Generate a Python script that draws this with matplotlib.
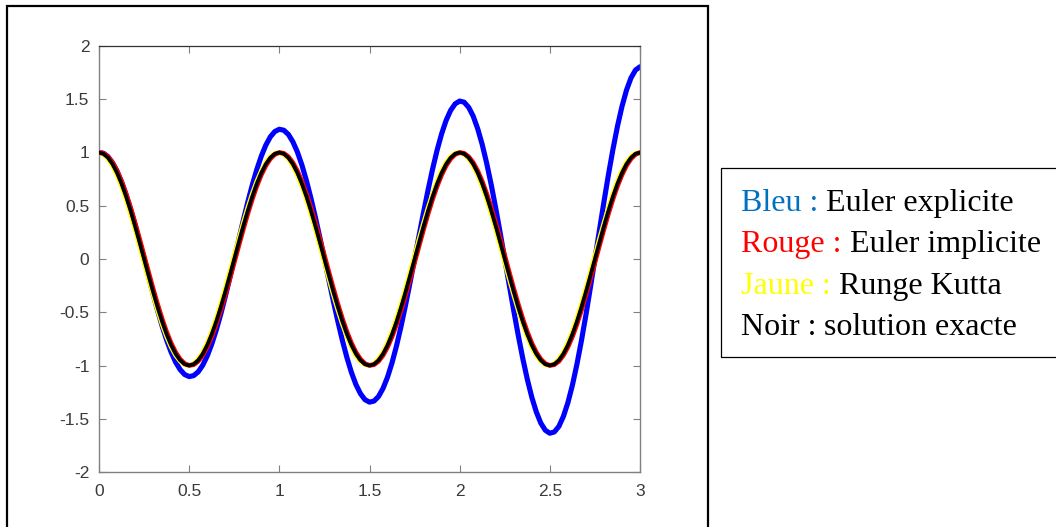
import numpy as np
import matplotlib
matplotlib.use("Agg")
import matplotlib.pyplot as plt
from matplotlib.patches import Rectangle

# ---- data ----
t = np.linspace(0, 3, 121)

exacte = [1.0, 0.988, 0.951, 0.891, 0.809, 0.707, 0.588, 0.454, 0.309, 0.156, 0.0,
          -0.156, -0.309, -0.454, -0.588, -0.707, -0.809, -0.891, -0.951, -0.988, -1.0,
          -0.988, -0.951, -0.891, -0.809, -0.707, -0.588, -0.454, -0.309, -0.156, 0.0,
          0.156, 0.309, 0.454, 0.588, 0.707, 0.809, 0.891, 0.951, 0.988, 1.0,
          0.988, 0.951, 0.891, 0.809, 0.707, 0.588, 0.454, 0.309, 0.156, 0.0,
          -0.156, -0.309, -0.454, -0.588, -0.707, -0.809, -0.891, -0.951, -0.988, -1.0,
          -0.988, -0.951, -0.891, -0.809, -0.707, -0.588, -0.454, -0.309, -0.156, 0.0,
          0.156, 0.309, 0.454, 0.588, 0.707, 0.809, 0.891, 0.951, 0.988, 1.0,
          0.988, 0.951, 0.891, 0.809, 0.707, 0.588, 0.454, 0.309, 0.156, 0.0,
          -0.156, -0.309, -0.454, -0.588, -0.707, -0.809, -0.891, -0.951, -0.988, -1.0,
          -0.988, -0.951, -0.891, -0.809, -0.707, -0.588, -0.454, -0.309, -0.156, 0.0,
          0.156, 0.309, 0.454, 0.588, 0.707, 0.809, 0.891, 0.951, 0.988, 1.0]

euler_explicite = [1.000, 0.993, 0.961, 0.904, 0.825, 0.725, 0.605, 0.470, 0.321, 0.163, 0.0,
                   -0.165, -0.328, -0.484, -0.630, -0.761, -0.875, -0.969, -1.039, -1.085, -1.104,
                   -1.095, -1.060, -0.998, -0.911, -0.800, -0.668, -0.519, -0.355, -0.180, 0.0,
                   0.182, 0.362, 0.534, 0.695, 0.840, 0.966, 1.069, 1.147, 1.197, 1.218,
                   1.209, 1.170, 1.101, 1.005, 0.883, 0.737, 0.572, 0.391, 0.199, 0.0,
                   -0.201, -0.399, -0.589, -0.767, -0.927, -1.066, -1.180, -1.265, -1.321, -1.344,
                   -1.334, -1.291, -1.215, -1.109, -0.974, -0.814, -0.631, -0.432, -0.220, 0.0,
                   0.222, 0.440, 0.650, 0.846, 1.023, 1.176, 1.302, 1.396, 1.457, 1.483,
                   1.472, 1.424, 1.341, 1.223, 1.075, 0.898, 0.697, 0.477, 0.242, 0.0,
                   -0.245, -0.486, -0.718, -0.934, -1.129, -1.298, -1.436, -1.541, -1.608, -1.636,
                   -1.624, -1.572, -1.479, -1.350, -1.186, -0.990, -0.769, -0.526, -0.267, 0.0,
                   0.270, 0.536, 0.792, 1.030, 1.246, 1.432, 1.585, 1.700, 1.774, 1.805]

euler_implicite = [0.9995, 0.9921, 0.9603, 0.9048, 0.8271, 0.7290, 0.6129, 0.4818, 0.3387, 0.1874, 0.0314,
                   -0.1253, -0.2790, -0.4258, -0.5621, -0.6846, -0.7902, -0.8763, -0.9409, -0.9823, -0.9995,
                   -0.9921, -0.9603, -0.9048, -0.8271, -0.7290, -0.6129, -0.4818, -0.3387, -0.1874, -0.0314,
                   0.1253, 0.2790, 0.4258, 0.5621, 0.6846, 0.7902, 0.8763, 0.9409, 0.9823, 0.9995,
                   0.9921, 0.9603, 0.9048, 0.8271, 0.7290, 0.6129, 0.4818, 0.3387, 0.1874, 0.0314,
                   -0.1253, -0.2790, -0.4258, -0.5621, -0.6846, -0.7902, -0.8763, -0.9409, -0.9823, -0.9995,
                   -0.9921, -0.9603, -0.9048, -0.8271, -0.7290, -0.6129, -0.4818, -0.3387, -0.1874, -0.0314,
                   0.1253, 0.2790, 0.4258, 0.5621, 0.6846, 0.7902, 0.8763, 0.9409, 0.9823, 0.9995,
                   0.9921, 0.9603, 0.9048, 0.8271, 0.7290, 0.6129, 0.4818, 0.3387, 0.1874, 0.0314,
                   -0.1253, -0.2790, -0.4258, -0.5621, -0.6846, -0.7902, -0.8763, -0.9409, -0.9823, -0.9995,
                   -0.9921, -0.9603, -0.9048, -0.8271, -0.7290, -0.6129, -0.4818, -0.3387, -0.1874, -0.0314,
                   0.1253, 0.2790, 0.4258, 0.5621, 0.6846, 0.7902, 0.8763, 0.9409, 0.9823, 0.9995]

runge_kutta = [0.9995, 0.9823, 0.9409, 0.8763, 0.7902, 0.6846, 0.5621, 0.4258, 0.2790, 0.1253, -0.0314,
               -0.1874, -0.3387, -0.4818, -0.6129, -0.7290, -0.8271, -0.9048, -0.9603, -0.9921, -0.9995,
               -0.9823, -0.9409, -0.8763, -0.7902, -0.6846, -0.5621, -0.4258, -0.2790, -0.1253, 0.0314,
               0.1874, 0.3387, 0.4818, 0.6129, 0.7290, 0.8271, 0.9048, 0.9603, 0.9921, 0.9995,
               0.9823, 0.9409, 0.8763, 0.7902, 0.6846, 0.5621, 0.4258, 0.2790, 0.1253, -0.0314,
               -0.1874, -0.3387, -0.4818, -0.6129, -0.7290, -0.8271, -0.9048, -0.9603, -0.9921, -0.9995,
               -0.9823, -0.9409, -0.8763, -0.7902, -0.6846, -0.5621, -0.4258, -0.2790, -0.1253, 0.0314,
               0.1874, 0.3387, 0.4818, 0.6129, 0.7290, 0.8271, 0.9048, 0.9603, 0.9921, 0.9995,
               0.9823, 0.9409, 0.8763, 0.7902, 0.6846, 0.5621, 0.4258, 0.2790, 0.1253, -0.0314,
               -0.1874, -0.3387, -0.4818, -0.6129, -0.7290, -0.8271, -0.9048, -0.9603, -0.9921, -0.9995,
               -0.9823, -0.9409, -0.8763, -0.7902, -0.6846, -0.5621, -0.4258, -0.2790, -0.1253, 0.0314,
               0.1874, 0.3387, 0.4818, 0.6129, 0.7290, 0.8271, 0.9048, 0.9603, 0.9921, 0.9995]

xticks = [0, 0.5, 1, 1.5, 2, 2.5, 3]
xticklabels = ["0", "0.5", "1", "1.5", "2", "2.5", "3"]
yticks = [-2, -1.5, -1, -0.5, 0, 0.5, 1, 1.5, 2]
yticklabels = ["-2", "-1.5", "-1", "-0.5", "0", "0.5", "1", "1.5", "2"]

legend_lines = [("Bleu : ", "#0070C0", "Euler explicite"),
                ("Rouge : ", "#FF0000", "Euler implicite"),
                ("Jaune : ", "#FFFF00", "Runge Kutta"),
                ("Noir : ", "#000000", "solution exacte")]

# ---- figure ----
W, H = 1056, 527
fig = plt.figure(figsize=(W / 100, H / 100), dpi=100)
fig.patch.set_facecolor("white")

def fx(px):
    return px / W

def fy(py):
    return 1 - py / H

# outer frame (bottom is off the canvas)
fig.patches.append(Rectangle((fx(7), fy(540)), fx(708) - fx(7), fy(6) - fy(540),
                             transform=fig.transFigure, fill=False,
                             edgecolor="black", linewidth=1.6, zorder=0))

ax = fig.add_axes([fx(99), fy(472), fx(640) - fx(99), fy(46) - fy(472)])
ax.plot(t, euler_explicite, color="#0000FF", linewidth=3.7, solid_capstyle="round", zorder=2)
ax.plot(t, runge_kutta, color="#FFFF00", linewidth=3.4, solid_capstyle="round", zorder=3)
ax.plot(t, euler_implicite, color="#FF0000", linewidth=3.4, solid_capstyle="round", zorder=4)
ax.plot(t, exacte, color="#000000", linewidth=2.7, solid_capstyle="round", zorder=5)

ax.set_xlim(0, 3)
ax.set_ylim(-2, 2)
ax.set_xticks(xticks)
ax.set_xticklabels(xticklabels)
ax.set_yticks(yticks)
ax.set_yticklabels(yticklabels)
ax.tick_params(direction="in", length=5, width=0.8, color="#808080",
               labelsize=12.5, labelcolor="#3a3a3a", top=True, right=True)
ax.tick_params(axis="x", pad=9)
ax.tick_params(axis="y", pad=7)
for lab in ax.get_xticklabels() + ax.get_yticklabels():
    lab.set_family(["Liberation Sans", "DejaVu Sans"])
for side in ["left", "bottom", "right"]:
    ax.spines[side].set_color("#808080")
    ax.spines[side].set_linewidth(1.0)
ax.spines["top"].set_color("#333333")
ax.spines["top"].set_linewidth(0.9)

# legend-like text box (right edge off the canvas)
fig.patches.append(Rectangle((fx(721), fy(357)), fx(1070) - fx(721), fy(168) - fy(357),
                             transform=fig.transFigure, fill=False,
                             edgecolor="black", linewidth=0.9, zorder=0))

baselines = [211, 252, 294, 335]
fs = 23
for (lbl, col, txt), by in zip(legend_lines, baselines):
    t1 = fig.text(fx(741), fy(by), lbl, color=col, fontsize=fs,
                  family=["Liberation Serif", "DejaVu Serif"], va="baseline", ha="left")
    fig.canvas.draw()
    bb = t1.get_window_extent()
    fig.text(bb.x1 / W, fy(by), txt, color="black", fontsize=fs,
             family=["Liberation Serif", "DejaVu Serif"], va="baseline", ha="left")

fig.savefig("out.png", dpi=100)
